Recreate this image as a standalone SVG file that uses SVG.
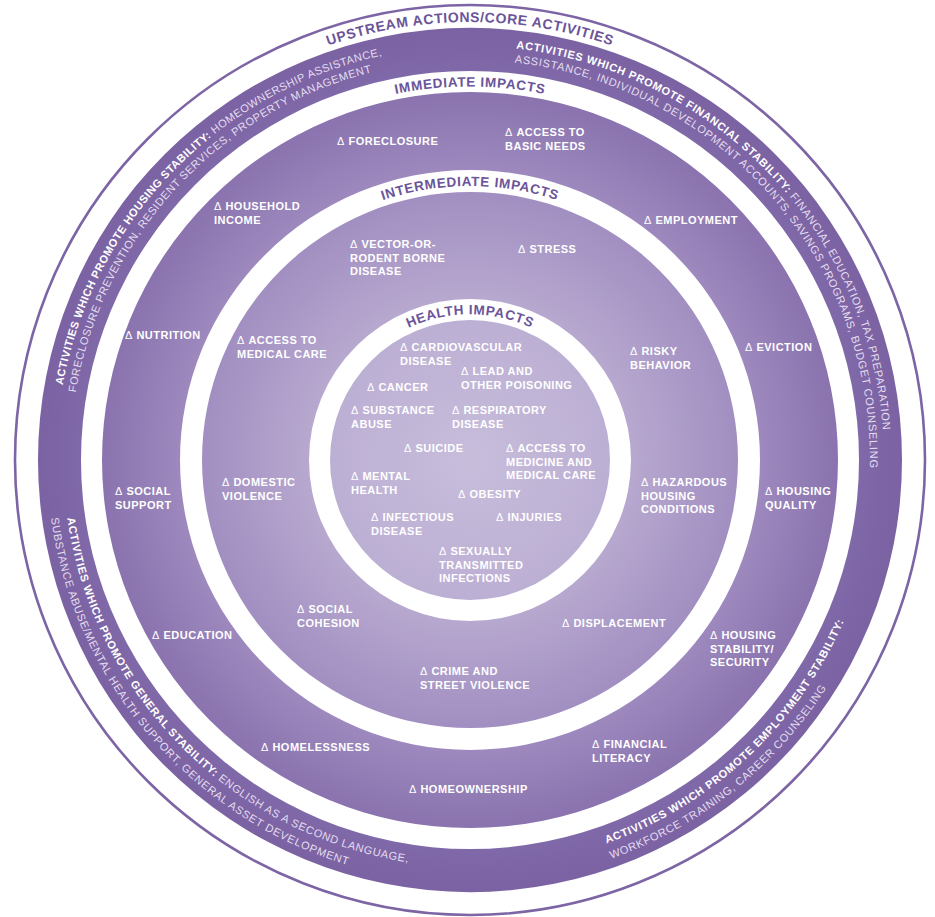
<svg xmlns="http://www.w3.org/2000/svg" width="935" height="917" viewBox="0 0 935 917">
<defs>
<radialGradient id="grad" gradientUnits="userSpaceOnUse" cx="470" cy="460" r="432">
<stop offset="0" stop-color="#c8bddb"/>
<stop offset="0.324" stop-color="#bcafd4"/>
<stop offset="0.373" stop-color="#b7a8cf"/>
<stop offset="0.62" stop-color="#a18fc1"/>
<stop offset="0.671" stop-color="#9d89be"/>
<stop offset="0.852" stop-color="#8a73ae"/>
<stop offset="0.9" stop-color="#8069a8"/>
<stop offset="1" stop-color="#7b62a3"/>
</radialGradient>
<path id="p-up" d="M 32 460 A 438 438 0 0 1 908 460"/>
<path id="p-imm" d="M 96.5 460 A 373.5 373.5 0 0 1 843.5 460"/>
<path id="p-int" d="M 196 460 A 274 274 0 0 1 744 460"/>
<path id="p-hea" d="M 324.3 460 A 145.7 145.7 0 0 1 615.7 460"/>
<path id="p-hs1" d="M 62.8 385.3 A 414 414 0 0 1 541.9 52.3"/>
<path id="p-hs2" d="M 75.7 392.6 A 400 400 0 0 1 539.5 66.1"/>
<path id="p-fi1" d="M 516.1 48.6 A 414 414 0 0 1 869.9 567.2"/>
<path id="p-fi2" d="M 514.6 62.5 A 400 400 0 0 1 856.4 563.5"/>
<path id="p-em1" d="M 606.5 843.4 A 407 407 0 0 0 870.8 530.7"/>
<path id="p-em2" d="M 611.2 858.7 A 423 423 0 0 0 886.6 533.5"/>
<path id="p-ge1" d="M 67.2 518.1 A 407 407 0 0 0 540.7 860.8"/>
<path id="p-ge2" d="M 51 518.1 A 423 423 0 0 0 506.9 881.4"/>
</defs>
<style>
.band{fill:url(#grad);fill-rule:evenodd}
.ring{fill:none;stroke:#7d65a5;stroke-width:2.6}
.rl{font-family:"Liberation Sans",Arial,sans-serif;font-weight:bold;font-size:13.5px;fill:#6b5499;letter-spacing:0.7px}
.l{font-family:"Liberation Sans",Arial,sans-serif;font-weight:bold;font-size:11px;fill:#ffffff;letter-spacing:0.5px}
.d{font-weight:normal}
.at{font-family:"Liberation Sans",Arial,sans-serif;font-size:11px;fill:#e4ddef;font-weight:normal}
.ab{font-weight:bold;fill:#ffffff}
</style>
<g id="outer-ring"><circle class="ring" cx="470" cy="460" r="455"/></g>
<g id="band-upstream"><path class="band" d="M 38 460 A 432 432 0 1 0 902 460 A 432 432 0 1 0 38 460 Z M 81 460 A 389 389 0 1 0 859 460 A 389 389 0 1 0 81 460 Z"/></g>
<g id="band-immediate"><path class="band" d="M 102 460 A 368 368 0 1 0 838 460 A 368 368 0 1 0 102 460 Z M 180 460 A 290 290 0 1 0 760 460 A 290 290 0 1 0 180 460 Z"/></g>
<g id="band-intermediate"><path class="band" d="M 202 460 A 268 268 0 1 0 738 460 A 268 268 0 1 0 202 460 Z M 309 460 A 161 161 0 1 0 631 460 A 161 161 0 1 0 309 460 Z"/></g>
<g id="band-health"><circle class="band" cx="470" cy="460" r="140"/></g>
<g id="ring-labels">
<text class="rl" style="font-size:14px;letter-spacing:0.6px"><textPath href="#p-up" startOffset="50%" text-anchor="middle">UPSTREAM ACTIONS/CORE ACTIVITIES</textPath></text>
<text class="rl"><textPath href="#p-imm" startOffset="50%" text-anchor="middle">IMMEDIATE IMPACTS</textPath></text>
<text class="rl"><textPath href="#p-int" startOffset="50%" text-anchor="middle">INTERMEDIATE IMPACTS</textPath></text>
<text class="rl"><textPath href="#p-hea" startOffset="50%" text-anchor="middle">HEALTH IMPACTS</textPath></text>
</g>
<g id="activities-housing">
<text class="at" letter-spacing="0.47"><textPath href="#p-hs1"><tspan class="ab">ACTIVITIES WHICH PROMOTE HOUSING STABILITY:</tspan> HOMEOWNERSHIP ASSISTANCE,</textPath></text>
<text class="at" letter-spacing="0.56"><textPath href="#p-hs2">FORECLOSURE PREVENTION, RESIDENT SERVICES, PROPERTY MANAGEMENT</textPath></text>
</g>
<g id="activities-financial">
<text class="at" letter-spacing="0.69"><textPath href="#p-fi1"><tspan class="ab">ACTIVITIES WHICH PROMOTE FINANCIAL STABILITY:</tspan> FINANCIAL EDUCATION, TAX PREPARATION</textPath></text>
<text class="at" letter-spacing="0.7"><textPath href="#p-fi2">ASSISTANCE, INDIVIDUAL DEVELOPMENT ACCOUNTS, SAVINGS PROGRAMS, BUDGET COUNSELING</textPath></text>
</g>
<g id="activities-employment">
<text class="at" letter-spacing="0.7"><textPath href="#p-em1"><tspan class="ab">ACTIVITIES WHICH PROMOTE EMPLOYMENT STABILITY:</tspan></textPath></text>
<text class="at" letter-spacing="0.65"><textPath href="#p-em2">WORKFORCE TRAINING, CAREER COUNSELING</textPath></text>
</g>
<g id="activities-general">
<text class="at" letter-spacing="0.62"><textPath href="#p-ge1"><tspan class="ab">ACTIVITIES WHICH PROMOTE GENERAL STABILITY:</tspan> ENGLISH AS A SECOND LANGUAGE,</textPath></text>
<text class="at" letter-spacing="0.72"><textPath href="#p-ge2">SUBSTANCE ABUSE/MENTAL HEALTH SUPPORT, GENERAL ASSET DEVELOPMENT</textPath></text>
</g>
<g id="connectors"></g>
<g id="immediate-impacts">
<g id="n-foreclosure"><text class="l" x="337" y="145"><tspan class="d">Δ</tspan> FORECLOSURE</text></g>
<g id="n-basic-needs"><text class="l" x="505" y="136"><tspan class="d">Δ</tspan> ACCESS TO<tspan x="505" dy="13.7">BASIC NEEDS</tspan></text></g>
<g id="n-household-income"><text class="l" x="214" y="210"><tspan class="d">Δ</tspan> HOUSEHOLD<tspan x="214" dy="13.7">INCOME</tspan></text></g>
<g id="n-employment"><text class="l" x="644" y="224"><tspan class="d">Δ</tspan> EMPLOYMENT</text></g>
<g id="n-nutrition"><text class="l" x="125" y="339"><tspan class="d">Δ</tspan> NUTRITION</text></g>
<g id="n-eviction"><text class="l" x="745" y="351"><tspan class="d">Δ</tspan> EVICTION</text></g>
<g id="n-social-support"><text class="l" x="115" y="495"><tspan class="d">Δ</tspan> SOCIAL<tspan x="115" dy="13.7">SUPPORT</tspan></text></g>
<g id="n-housing-quality"><text class="l" x="765" y="495"><tspan class="d">Δ</tspan> HOUSING<tspan x="765" dy="13.7">QUALITY</tspan></text></g>
<g id="n-education"><text class="l" x="152" y="639"><tspan class="d">Δ</tspan> EDUCATION</text></g>
<g id="n-housing-stability"><text class="l" x="710" y="639"><tspan class="d">Δ</tspan> HOUSING<tspan x="710" dy="13.7">STABILITY/</tspan><tspan x="710" dy="13.7">SECURITY</tspan></text></g>
<g id="n-homelessness"><text class="l" x="261" y="751"><tspan class="d">Δ</tspan> HOMELESSNESS</text></g>
<g id="n-financial-literacy"><text class="l" x="592" y="748"><tspan class="d">Δ</tspan> FINANCIAL<tspan x="592" dy="13.7">LITERACY</tspan></text></g>
<g id="n-homeownership"><text class="l" x="409" y="793"><tspan class="d">Δ</tspan> HOMEOWNERSHIP</text></g>
</g>
<g id="intermediate-impacts">
<g id="n-vector"><text class="l" x="350" y="248"><tspan class="d">Δ</tspan> VECTOR-OR-<tspan x="350" dy="13.7">RODENT BORNE</tspan><tspan x="350" dy="13.7">DISEASE</tspan></text></g>
<g id="n-stress"><text class="l" x="518" y="253"><tspan class="d">Δ</tspan> STRESS</text></g>
<g id="n-medical-care"><text class="l" x="237" y="344"><tspan class="d">Δ</tspan> ACCESS TO<tspan x="237" dy="13.7">MEDICAL CARE</tspan></text></g>
<g id="n-risky"><text class="l" x="630" y="355"><tspan class="d">Δ</tspan> RISKY<tspan x="630" dy="13.7">BEHAVIOR</tspan></text></g>
<g id="n-domestic"><text class="l" x="222" y="486"><tspan class="d">Δ</tspan> DOMESTIC<tspan x="222" dy="13.7">VIOLENCE</tspan></text></g>
<g id="n-hazardous"><text class="l" x="641" y="486"><tspan class="d">Δ</tspan> HAZARDOUS<tspan x="641" dy="13.7">HOUSING</tspan><tspan x="641" dy="13.7">CONDITIONS</tspan></text></g>
<g id="n-cohesion"><text class="l" x="297" y="613"><tspan class="d">Δ</tspan> SOCIAL<tspan x="297" dy="13.7">COHESION</tspan></text></g>
<g id="n-displacement"><text class="l" x="562" y="627"><tspan class="d">Δ</tspan> DISPLACEMENT</text></g>
<g id="n-crime"><text class="l" x="420" y="675"><tspan class="d">Δ</tspan> CRIME AND<tspan x="420" dy="13.7">STREET VIOLENCE</tspan></text></g>
</g>
<g id="health-impacts">
<g id="n-cardio"><text class="l" x="400" y="351"><tspan class="d">Δ</tspan> CARDIOVASCULAR<tspan x="400" dy="13.7">DISEASE</tspan></text></g>
<g id="n-lead"><text class="l" x="461" y="375"><tspan class="d">Δ</tspan> LEAD AND<tspan x="461" dy="13.7">OTHER POISONING</tspan></text></g>
<g id="n-cancer"><text class="l" x="367" y="391"><tspan class="d">Δ</tspan> CANCER</text></g>
<g id="n-substance"><text class="l" x="351" y="414"><tspan class="d">Δ</tspan> SUBSTANCE<tspan x="351" dy="13.7">ABUSE</tspan></text></g>
<g id="n-respiratory"><text class="l" x="452" y="414"><tspan class="d">Δ</tspan> RESPIRATORY<tspan x="452" dy="13.7">DISEASE</tspan></text></g>
<g id="n-suicide"><text class="l" x="404" y="452"><tspan class="d">Δ</tspan> SUICIDE</text></g>
<g id="n-medicine"><text class="l" x="506" y="452"><tspan class="d">Δ</tspan> ACCESS TO<tspan x="506" dy="13.7">MEDICINE AND</tspan><tspan x="506" dy="13.7">MEDICAL CARE</tspan></text></g>
<g id="n-mental"><text class="l" x="351" y="480"><tspan class="d">Δ</tspan> MENTAL<tspan x="351" dy="13.7">HEALTH</tspan></text></g>
<g id="n-obesity"><text class="l" x="458" y="498"><tspan class="d">Δ</tspan> OBESITY</text></g>
<g id="n-infectious"><text class="l" x="371" y="521"><tspan class="d">Δ</tspan> INFECTIOUS<tspan x="371" dy="13.7">DISEASE</tspan></text></g>
<g id="n-injuries"><text class="l" x="496" y="521"><tspan class="d">Δ</tspan> INJURIES</text></g>
<g id="n-sti"><text class="l" x="439" y="555"><tspan class="d">Δ</tspan> SEXUALLY<tspan x="439" dy="13.7">TRANSMITTED</tspan><tspan x="439" dy="13.7">INFECTIONS</tspan></text></g>
</g>
</svg>
